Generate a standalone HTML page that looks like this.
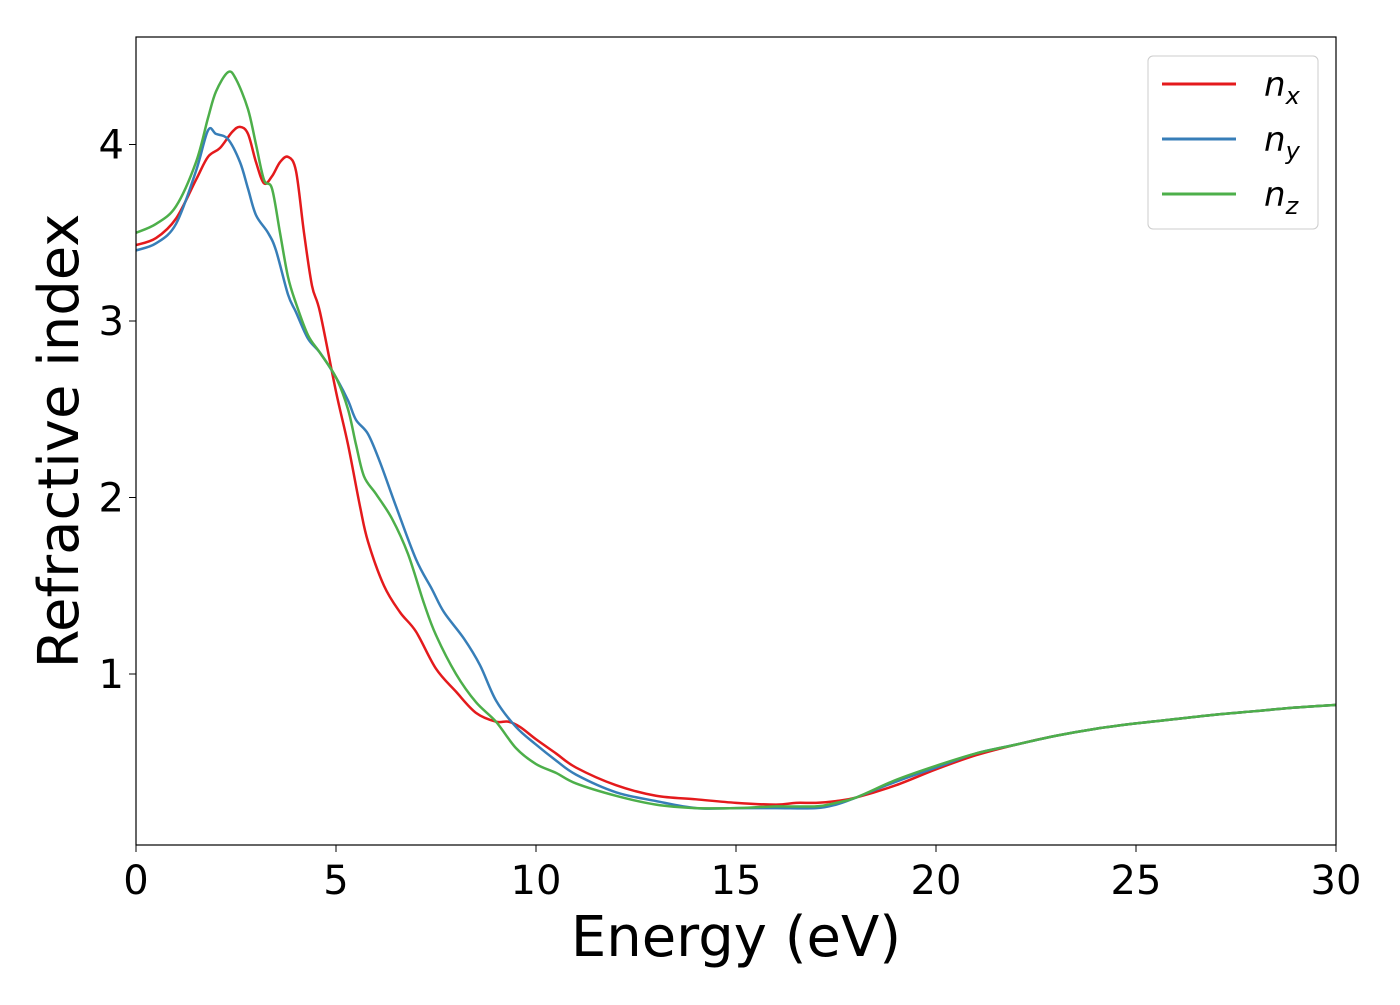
<!DOCTYPE html>
<html><head><meta charset="utf-8"><style>
body{margin:0;background:#fff}
svg text{font-family:"DejaVu Sans","Liberation Sans",sans-serif;fill:#000}
</style></head><body>
<svg width="1400" height="1000" xmlns="http://www.w3.org/2000/svg">
<rect x="0" y="0" width="1400" height="1000" fill="#fff"/>
<g id="plot"></g>
<g id="axes"></g>
<text x="736" y="956" font-size="56" text-anchor="middle">Energy (eV)</text>
<text transform="translate(78,441) rotate(-90)" font-size="56" text-anchor="middle">Refractive index</text>
<g>
<rect x="1148" y="56" width="170" height="173" rx="5" fill="#fff" stroke="#ccc" stroke-width="1"/>
<line x1="1162" y1="84" x2="1236" y2="84" stroke="#e41a1c" stroke-width="3"/>
<text x="1264" y="96" font-size="34" font-style="italic">n<tspan font-size="24" dy="8">x</tspan></text>
<line x1="1162" y1="139" x2="1236" y2="139" stroke="#377eb8" stroke-width="3"/>
<text x="1264" y="151" font-size="34" font-style="italic">n<tspan font-size="24" dy="8">y</tspan></text>
<line x1="1162" y1="194" x2="1236" y2="194" stroke="#4daf4a" stroke-width="3"/>
<text x="1264" y="206" font-size="34" font-style="italic">n<tspan font-size="24" dy="8">z</tspan></text>
</g>
</svg>
<script>
const xTicks=[0,5,10,15,20,25,30];
const yTicks=[1,2,3,4];
const tail=[[22,0.6],[23,0.65],[24,0.69],[25,0.72],[26,0.745],[27,0.77],[28,0.79],[29,0.81],[30,0.825]];
const nxData=[[0,3.43],[0.5,3.47],[1,3.58],[1.5,3.8],[1.8,3.93],[2.1,3.98],[2.4,4.07],[2.6,4.1],[2.8,4.06],[3.0,3.9],[3.2,3.78],[3.4,3.82],[3.6,3.9],[3.8,3.93],[4.0,3.85],[4.2,3.5],[4.4,3.2],[4.6,3.05],[5.0,2.6],[5.3,2.3],[5.6,1.95],[5.8,1.75],[6.2,1.5],[6.6,1.35],[7.0,1.24],[7.5,1.03],[8,0.9],[8.5,0.78],[9,0.73],[9.3,0.73],[9.6,0.7],[10,0.63],[10.5,0.55],[11,0.47],[12,0.37],[13,0.31],[14,0.29],[15,0.27],[16,0.26],[16.5,0.27],[17,0.27],[17.5,0.28],[18,0.3],[19,0.37],[20,0.46],[21,0.54]].concat(tail);
const nyData=[[0,3.4],[0.5,3.44],[1,3.55],[1.5,3.85],[1.8,4.08],[2.0,4.06],[2.3,4.03],[2.6,3.9],[2.8,3.75],[3.0,3.6],[3.3,3.5],[3.5,3.4],[3.8,3.15],[4.0,3.05],[4.3,2.9],[4.6,2.82],[5.0,2.68],[5.3,2.55],[5.5,2.44],[5.8,2.36],[6.1,2.2],[6.5,1.95],[7.0,1.65],[7.4,1.48],[7.7,1.35],[8.2,1.2],[8.6,1.05],[9.0,0.85],[9.5,0.7],[10,0.6],[10.5,0.51],[11,0.43],[12,0.33],[13,0.28],[14,0.24],[15,0.24],[16,0.24],[17,0.24],[17.5,0.26],[18,0.3],[19,0.39],[20,0.47],[21,0.55]].concat(tail);
const nzData=[[0,3.5],[0.5,3.55],[1,3.65],[1.5,3.9],[1.8,4.15],[2.0,4.3],[2.3,4.41],[2.5,4.37],[2.8,4.2],[3.0,4.0],[3.2,3.8],[3.4,3.75],[3.6,3.5],[3.8,3.25],[4.0,3.1],[4.3,2.92],[4.6,2.82],[5.0,2.68],[5.3,2.5],[5.5,2.3],[5.7,2.12],[6.0,2.02],[6.4,1.88],[6.8,1.68],[7.2,1.4],[7.5,1.22],[8,1.0],[8.5,0.84],[9,0.73],[9.5,0.58],[10,0.49],[10.5,0.44],[11,0.38],[12,0.31],[13,0.26],[14,0.24],[15,0.24],[16,0.25],[17,0.25],[17.5,0.27],[18,0.3],[19,0.4],[20,0.48],[21,0.55]].concat(tail);
const NS="http://www.w3.org/2000/svg";
const X0=136,X1=1336,Y0=37,Y1=845;
const sx=v=>X0+(v/30)*(X1-X0);
const sy=v=>850.5-v*176.5;
function path(d){
  const p=d.map(([a,b])=>[sx(a),sy(b)]);
  let s="M"+p[0][0]+","+p[0][1];
  for(let i=0;i<p.length-1;i++){
    const a=p[Math.max(0,i-1)],b=p[i],c=p[i+1],e=p[Math.min(p.length-1,i+2)];
    s+=" C"+(b[0]+(c[0]-a[0])/6)+","+(b[1]+(c[1]-a[1])/6)+" "+(c[0]-(e[0]-b[0])/6)+","+(c[1]-(e[1]-b[1])/6)+" "+c[0]+","+c[1];
  }
  return s;
}
const plot=document.getElementById('plot');
const axes=document.getElementById('axes');
const clip=document.createElementNS(NS,'clipPath');clip.setAttribute('id','cp');
const cr=document.createElementNS(NS,'rect');cr.setAttribute('x',X0);cr.setAttribute('y',Y0);cr.setAttribute('width',X1-X0);cr.setAttribute('height',Y1-Y0);
clip.appendChild(cr);plot.appendChild(clip);
[[nxData,'#e41a1c','line-nx'],[nyData,'#377eb8','line-ny'],[nzData,'#4daf4a','line-nz']].forEach(([d,c,n])=>{
  const el=document.createElementNS(NS,'path');
  el.setAttribute('d',path(d));el.setAttribute('fill','none');el.setAttribute('stroke',c);el.setAttribute('stroke-width','2.5');el.setAttribute('clip-path','url(#cp)');
  
  
  plot.appendChild(el);
});
const frame=document.createElementNS(NS,'rect');
frame.setAttribute('x',X0);frame.setAttribute('y',Y0);frame.setAttribute('width',X1-X0);frame.setAttribute('height',Y1-Y0);
frame.setAttribute('fill','none');frame.setAttribute('stroke','#000');frame.setAttribute('stroke-width','1.2');


axes.appendChild(frame);
xTicks.forEach(t=>{
  const l=document.createElementNS(NS,'line');
  l.setAttribute('x1',sx(t));l.setAttribute('x2',sx(t));l.setAttribute('y1',Y1);l.setAttribute('y2',Y1+7);l.setAttribute('stroke','#000');
  
  
  axes.appendChild(l);
  const tx=document.createElementNS(NS,'text');
  tx.setAttribute('x',sx(t));tx.setAttribute('y',894);tx.setAttribute('font-size','40');tx.setAttribute('text-anchor','middle');tx.textContent=t;
  
  
  axes.appendChild(tx);
});
yTicks.forEach(t=>{
  const l=document.createElementNS(NS,'line');
  l.setAttribute('x1',X0-7);l.setAttribute('x2',X0);l.setAttribute('y1',sy(t));l.setAttribute('y2',sy(t));l.setAttribute('stroke','#000');
  
  
  axes.appendChild(l);
  const tx=document.createElementNS(NS,'text');
  tx.setAttribute('x',X0-12);tx.setAttribute('y',sy(t)+14);tx.setAttribute('font-size','40');tx.setAttribute('text-anchor','end');tx.textContent=t;
  
  
  axes.appendChild(tx);
});
</script>
</body></html>
